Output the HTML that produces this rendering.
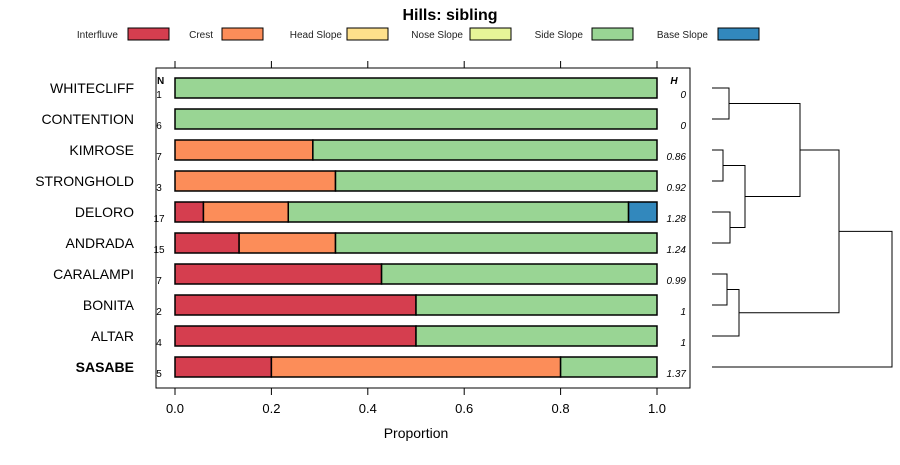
<!DOCTYPE html>
<html><head><meta charset="utf-8"><style>
body{margin:0;background:#fff;}
svg text{font-family:"Liberation Sans",sans-serif;}
</style></head><body>
<svg id="chart" width="900" height="460" viewBox="0 0 900 460" xmlns="http://www.w3.org/2000/svg">
<text x="450" y="20" text-anchor="middle" font-size="16" font-weight="bold">Hills: sibling</text>
<g id="legend"></g>
<rect x="156" y="68" width="534" height="320" fill="none" stroke="#000" stroke-width="1"/>
<g id="axis"></g>
<g id="bars"></g>
<g id="dendro" stroke="#000" fill="none" stroke-width="1"></g>
<text x="157" y="84" font-size="10" font-weight="bold">N</text>
<text x="674" y="84" font-size="10" font-weight="bold" font-style="italic" text-anchor="middle">H</text>
<text x="416" y="438" text-anchor="middle" font-size="14">Proportion</text>
</svg>
<script>
const categories=["WHITECLIFF","CONTENTION","KIMROSE","STRONGHOLD","DELORO","ANDRADA","CARALAMPI","BONITA","ALTAR","SASABE"];
const nValues=[1,6,7,3,17,15,7,2,4,5];
const hLabels=["0","0","0.86","0.92","1.28","1.24","0.99","1","1","1.37"];
const classNames=["Interfluve","Crest","Head Slope","Nose Slope","Side Slope","Base Slope"];
const classColors=["#d53e4f","#fc8d59","#fee08b","#e6f598","#99d594","#3288bd"];
const interfluve=[0,0,0,0,0.059,0.133,0.4286,0.5,0.5,0.2];
const crest=[0,0,0.286,0.333,0.176,0.2,0,0,0,0.6];
const headSlope=[0,0,0,0,0,0,0,0,0,0];
const noseSlope=[0,0,0,0,0,0,0,0,0,0];
const sideSlope=[1,1,0.714,0.667,0.706,0.667,0.5714,0.5,0.5,0.2];
const baseSlope=[0,0,0,0,0.059,0,0,0,0,0];
const xTicks=[0,0.2,0.4,0.6,0.8,1.0];
const xTickLabels=["0.0","0.2","0.4","0.6","0.8","1.0"];
const NS="http://www.w3.org/2000/svg";
const X=v=>175+v*482;
const Y=i=>88+i*31;
function mk(t,a,p){const e=document.createElementNS(NS,t);for(const k in a)e.setAttribute(k,a[k]);p.appendChild(e);return e;}
// legend
const lg=document.getElementById('legend');
const lgText=[118,213,342,463,583,708],lgBox=[128,222,347,470,592,718];
classNames.forEach((c,i)=>{
 const t=mk('text',{x:lgText[i],y:38,'font-size':10,'text-anchor':'end',fill:'#222'},lg);t.textContent=c;
 
 
 const r=mk('rect',{x:lgBox[i],y:28,width:41,height:12,fill:classColors[i],stroke:'#000'},lg);
 
 
});
// axis
const ax=document.getElementById('axis');
xTicks.forEach((v,i)=>{
 const t1=mk('line',{x1:X(v),x2:X(v),y1:61,y2:68,stroke:'#000'},ax);
 
 
 const t2=mk('line',{x1:X(v),x2:X(v),y1:388,y2:395,stroke:'#000'},ax);
 
 
 const tl=mk('text',{x:X(v),y:413,'font-size':13,'text-anchor':'middle'},ax);tl.textContent=xTickLabels[i];
 
 
});
// bars
const bg=document.getElementById('bars');
const series=[interfluve,crest,headSlope,noseSlope,sideSlope,baseSlope];
categories.forEach((c,i)=>{
 const y=Y(i);
 const lab=mk('text',{x:134,y:y+5,'font-size':14,'text-anchor':'end','font-weight':i==9?'bold':'normal'},bg);lab.textContent=c;
 
 
 const n=mk('text',{x:159,y:y+10,'font-size':10,'text-anchor':'middle'},bg);n.textContent=nValues[i];
 
 
 const h=mk('text',{x:686,y:y+10,'font-size':10,'font-style':'italic','text-anchor':'end'},bg);h.textContent=hLabels[i];
 
 
 let cum=0;
 series.forEach((s,k)=>{
  if(s[i]<=0)return;
  const r=mk('rect',{x:X(cum),y:y-10,width:X(cum+s[i])-X(cum),height:20,fill:classColors[k],stroke:'#000','stroke-width':1.5},bg);
  
  
  cum+=s[i];
 });
});
// dendrogram: [leftA,leftB] merges with height x
const dg=document.getElementById('dendro');
function seg(d){const p=mk('path',{d:d},dg);}
const L=712;
function join(y1,x1,y2,x2,h){seg(`M${x1},${y1}H${h}V${y2}H${x2}`);return (y1+y2)/2;}
const a=join(Y(0),L,Y(1),L,729);
const b=join(Y(2),L,Y(3),L,723);
const c=join(Y(4),L,Y(5),L,730);
const bc=join(b,723,c,730,745);
const abc=join(a,729,bc,745,800);
const d=join(Y(6),L,Y(7),L,727);
const de=join(d,727,Y(8),L,739);
const all=join(abc,800,de,739,839);
join(all,839,Y(9),L,892);
</script>
</body></html>
